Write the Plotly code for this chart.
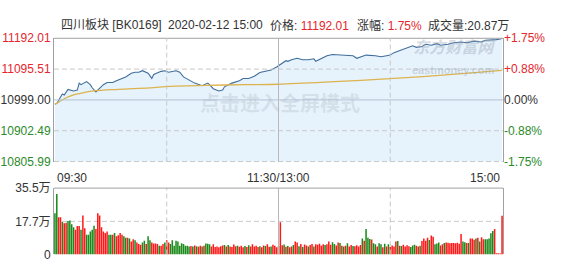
import plotly.graph_objects as go

# ---------------- data ----------------
prev_close = 10999.00
price_min = [0, 1, 4, 5, 7, 10, 12, 13, 14, 17, 19, 20, 22, 24, 26, 28, 31, 33, 35, 38, 41, 43, 45, 47, 50,
             52, 53, 57, 59, 61, 65, 67, 69, 72, 75, 79, 82, 83, 85, 88, 90, 91, 95, 99, 101, 104, 107, 110,
             113, 116, 119, 122, 124, 125, 127, 130, 131, 133, 136, 139, 140, 143, 146, 149, 153, 156, 160,
             162, 165, 167, 172, 175, 178, 180, 182, 185, 187, 189, 192, 194, 197, 199, 202, 205, 207, 211,
             214, 218, 221, 225, 229, 231, 235, 237, 239, 240]
price_val = [10985.5, 10988.0, 11017.4, 11014.5, 11032.0, 11027.0, 11030.0, 11051.6, 11046.7, 11056.3,
             11046.7, 11037.0, 11024.0, 11034.0, 11046.7, 11053.4, 11053.4, 11059.2, 11063.3, 11071.0,
             11082.6, 11085.6, 11085.6, 11090.5, 11082.6, 11066.3, 11078.8, 11088.5, 11090.5, 11085.6,
             11090.5, 11085.6, 11071.0, 11061.3, 11051.6, 11043.7, 11051.6, 11046.7, 11034.0, 11027.0,
             11030.0, 11040.0, 11051.6, 11059.2, 11066.3, 11066.3, 11073.0, 11084.7, 11088.5, 11092.6,
             11102.2, 11114.8, 11121.8, 11119.8, 11124.7, 11129.4, 11127.7, 11124.7, 11124.7, 11127.7,
             11119.8, 11129.4, 11137.3, 11141.1, 11139.4, 11139.4, 11137.3, 11129.4, 11134.4, 11139.4,
             11137.3, 11134.4, 11137.3, 11139.4, 11147.0, 11154.0, 11158.7, 11163.6, 11168.6, 11163.6,
             11166.5, 11173.3, 11170.3, 11175.3, 11170.3, 11173.3, 11178.2, 11180.3, 11178.2, 11183.2,
             11180.3, 11186.1, 11186.1, 11187.9, 11189.9, 11192.01]

avg_min = [0, 1, 5, 10, 16, 21, 34, 51, 62, 81, 102, 120, 150, 182, 210, 240]
avg_val = [10985.5, 10988.5, 11002.8, 11014.5, 11022.4, 11027.0, 11032.0, 11037.0, 11041.7, 11044.6,
           11046.7, 11048.0, 11056.0, 11066.3, 11077.5, 11091.5]

volume = [22.1, 32.3, 19.9, 19.9, 17.4, 16.7, 17.0, 17.9, 18.2, 16.2,
          14.5, 13.2, 15.2, 15.2, 13.2, 20.8, 14.0, 10.6, 10.6, 12.3,
          13.2, 15.4, 13.6, 22.1, 20.8, 14.5, 12.3, 11.5, 12.3, 10.6,
          10.6, 10.6, 11.5, 9.8, 10.3, 11.5, 10.6, 9.8, 9.0, 9.0,
          8.6, 6.9, 8.1, 7.6, 6.4, 5.6, 5.2, 6.4, 7.3, 5.6,
          9.8, 7.6, 6.4, 5.9, 5.9, 5.6, 4.7, 4.7, 5.6, 6.4,
          7.6, 6.4, 5.6, 7.6, 4.7, 7.3, 6.9, 4.7, 6.0, 5.6,
          4.7, 4.7, 4.2, 4.5, 4.2, 4.8, 4.4, 4.1, 4.7, 4.3,
          4.6, 5.9, 5.7, 5.5, 4.2, 5.5, 4.0, 4.3, 3.9, 4.4,
          4.8, 5.0, 4.3, 5.1, 4.2, 4.0, 5.3, 4.4, 4.7, 4.1,
          4.6, 3.8, 4.5, 4.0, 4.9, 4.3, 5.4, 4.2, 4.6, 4.0,
          4.4, 3.9, 4.8, 4.5, 5.5, 4.1, 4.2, 5.2, 4.6, 3.9,
          4.5,
          17.3, 4.9, 5.3, 4.1, 4.5, 3.8, 4.2, 5.0, 6.9,
          6.4, 4.4, 5.6, 4.0, 5.3, 4.8, 4.2, 5.0, 5.6, 4.3,
          5.5, 5.2, 5.8, 4.6, 5.5, 5.0, 5.5, 6.9, 5.2, 6.5,
          5.6, 4.8, 6.4, 6.2, 4.6, 4.2, 4.7, 6.0, 4.3, 5.1,
          4.5, 4.4, 4.9, 4.3, 5.0, 8.6, 7.4, 13.6, 9.0, 8.3,
          8.0, 6.0, 5.5, 4.2, 6.0, 5.5, 3.9, 5.8, 4.2, 5.4,
          4.0, 4.8, 4.3, 6.9, 7.2, 4.6, 4.5, 5.2, 4.3, 4.9,
          4.4, 4.0, 4.8, 5.2, 4.6, 4.2, 4.6, 7.2, 8.6, 7.4,
          8.9, 7.7, 10.2, 9.5, 5.5, 5.9, 6.4, 4.8, 5.5, 6.2,
          6.4, 6.3, 6.0, 6.2, 6.1, 6.0, 6.3, 5.8, 10.9, 6.9,
          6.5, 6.2, 6.2, 8.6, 8.6, 7.9, 8.6, 9.0, 7.0, 9.2,
          8.1, 8.1, 8.1, 8.6, 11.4, 12.6, 13.6, 0.6, 0.6, 0.5,
          20.7]
vol_dir = list("GGRRGRRGGG" "GRRRGRRGGG" "GGRRRRRRRG" "GRGRRRRGGR" "GRRGRRRGGR"
               "GGRRRRGRRG" "RRGGGGGGGG" "GGGRGRGRRG" "RGGGRRRRRR" "RGRGRRRRGR"
               "RRGRGRRRRR" "GRRGRRGRRR" "G"
               "RRGRGRRGR" "RGRGRRGRRG" "RRRRRGRRRG" "GRRGRGRGRR" "GRRRRGRGGG"
               "RGGRGGRGRG" "RRRRGRGRRR" "RGGGRRGRRR" "RGRRGGGRRG" "RRRRRRRRRG"
               "GRGRRRGRGR" "RGGGGGRRRR" "R")

price_ticks = [10805.99, 10902.49, 10999.00, 11095.51, 11192.01]
price_labels = ["10805.99", "10902.49", "10999.00", "11095.51", "11192.01"]
pct_ticks = [-1.75, -0.88, 0.0, 0.88, 1.75]
pct_labels = ["-1.75%", "-0.88%", "0.00%", "+0.88%", "+1.75%"]
vol_ticks = [0, 17.7, 35.5]
vol_labels = ["0", "17.7万", "35.5万"]
time_ticks = [0, 120, 240]
time_labels = ["09:30", "11:30/13:00", "15:00"]

# ---------------- style ----------------
RED = "#e5262d"
GREEN = "#2b8a2b"
GRAY = "#333333"
FONT = "Liberation Sans, Arial, Noto Sans CJK SC"
W, H = 567, 270
X0, X1 = 54, 503
M_TOP, M_BOT = 33, 163
V_TOP, V_BOT = 191, 261


def colored(lbl, v, mid):
    c = RED if v > mid else (GREEN if v < mid else GRAY)
    return f"<span style='color:{c}'>{lbl}</span>"


fig = go.Figure()
fig.add_trace(go.Scatter(x=price_min, y=price_val, mode="lines",
                         line=dict(color="#3f6d9c", width=1.1),
                         fill="tozeroy", fillcolor="#e7f3fc",
                         xaxis="x", yaxis="y", hoverinfo="skip"))
fig.add_trace(go.Scatter(x=avg_min, y=avg_val, mode="lines",
                         line=dict(color="#dcb34e", width=1.3, shape="spline"),
                         xaxis="x", yaxis="y", hoverinfo="skip"))
fig.add_trace(go.Scatter(x=[None], y=[None], xaxis="x", yaxis="y2", showlegend=False))
fig.add_trace(go.Bar(x=list(range(len(volume))), y=volume,
                     marker=dict(color=["#ff1a1a" if d == "R" else "#1b8a1b" for d in vol_dir],
                                 line=dict(width=0)),
                     xaxis="x2", yaxis="y3", hoverinfo="skip"))

xdom = [X0 / W, X1 / W]
main_dom = [1 - M_BOT / H, 1 - M_TOP / H]
vol_dom = [1 - V_BOT / H, 1 - V_TOP / H]
xr = [-0.5, 240.5]

axis_common = dict(showgrid=False, zeroline=False, ticks="", fixedrange=True)

fig.update_layout(
    width=W, height=H, autosize=False,
    margin=dict(l=0, r=0, t=0, b=0),
    paper_bgcolor="white", plot_bgcolor="white",
    showlegend=False, bargap=0.18,
    font=dict(family=FONT, size=12, color=GRAY),
    xaxis=dict(domain=xdom, range=xr, anchor="y", showticklabels=False, showline=False, **axis_common),
    yaxis=dict(domain=main_dom, range=[price_ticks[0], price_ticks[-1]], anchor="x",
               tickvals=price_ticks,
               ticktext=[colored(l, v, prev_close) for l, v in zip(price_labels, price_ticks)],
               showline=True, linecolor="#a0a0a0", linewidth=1, mirror=True,
               tickfont=dict(size=12), **axis_common),
    yaxis2=dict(range=[pct_ticks[0], pct_ticks[-1]], overlaying="y", side="right", anchor="x",
                tickvals=pct_ticks,
                ticktext=[colored(l, v, 0) for l, v in zip(pct_labels, pct_ticks)],
                showline=False, tickfont=dict(size=12), **axis_common),
    xaxis2=dict(domain=xdom, range=xr, anchor="y3", showticklabels=False, showline=False, **axis_common),
    yaxis3=dict(domain=vol_dom, range=[vol_ticks[0], vol_ticks[-1]], anchor="x2",
                tickvals=vol_ticks, ticktext=vol_labels,
                showline=True, linecolor="#a0a0a0", linewidth=1, mirror=True,
                tickfont=dict(size=12, color=GRAY), **axis_common),
)

shapes = []
DASH = "5px,3px"
# main chart horizontal lines
shapes.append(dict(type="line", xref="x domain", yref="y domain", x0=0, x1=1, y0=1, y1=1,
                   line=dict(color="#a0a0a0", width=1)))
shapes.append(dict(type="line", xref="x domain", yref="y domain", x0=0, x1=1, y0=0, y1=0,
                   line=dict(color="#c8c8c8", width=1, dash=DASH)))
for v in price_ticks[1:-1]:
    if v == prev_close:
        shapes.append(dict(type="line", xref="x domain", yref="y", x0=0, x1=1, y0=v, y1=v,
                           line=dict(color="#b4c3d3", width=1)))
    else:
        shapes.append(dict(type="line", xref="x domain", yref="y", x0=0, x1=1, y0=v, y1=v,
                           line=dict(color="#c8c8c8", width=1, dash=DASH)))
# vertical lines in both panels
for xa, ya in (("x", "y domain"), ("x2", "y3 domain")):
    for m in (60, 180):
        shapes.append(dict(type="line", xref=xa, yref=ya, x0=m, x1=m, y0=0, y1=1,
                           line=dict(color="#c8c8c8", width=1, dash=DASH)))
    shapes.append(dict(type="line", xref=xa, yref=ya, x0=120, x1=120, y0=0, y1=1,
                       line=dict(color="#b8b8b8", width=1)))
# volume panel
shapes.append(dict(type="line", xref="x2 domain", yref="y3 domain", x0=0, x1=1, y0=1, y1=1,
                   line=dict(color="#a0a0a0", width=1)))
shapes.append(dict(type="line", xref="x2 domain", yref="y3", x0=0, x1=1, y0=17.7, y1=17.7,
                   line=dict(color="#c8c8c8", width=1, dash=DASH), layer="below"))
fig.update_layout(shapes=shapes)

ann = []
# time labels
tl_y = 1 - 180 / H
ann.append(dict(x=time_ticks[0], xref="x", y=tl_y, yref="paper", text=time_labels[0],
                showarrow=False, xanchor="left", yanchor="middle", font=dict(size=12, color=GRAY)))
ann.append(dict(x=time_ticks[1], xref="x", y=tl_y, yref="paper", text=time_labels[1],
                showarrow=False, xanchor="center", yanchor="middle", font=dict(size=12, color=GRAY)))
ann.append(dict(x=time_ticks[2], xref="x", y=tl_y, yref="paper", text=time_labels[2],
                showarrow=False, xanchor="right", yanchor="middle", font=dict(size=12, color=GRAY)))

# header
hy = 1 - 19 / H
header = [
    (58.5, "四川板块 [BK0169]"),
    (165.5, "2020-02-12 15:00"),
    (268, f"价格: <span style='color:{RED}'>11192.01</span>"),
    (355, f"涨幅: <span style='color:{RED}'>1.75%</span>"),
    (425.5, "成交量:20.87万"),
]
for hx, txt in header:
    ann.append(dict(x=hx / W, xref="paper", y=hy, yref="paper", text=txt, showarrow=False,
                    xanchor="left", yanchor="middle", font=dict(size=12, color=GRAY)))

# watermarks
ann.append(dict(x=280 / W, xref="paper", y=1 - 102 / H, yref="paper", text="<b>点击进入全屏模式</b>",
                showarrow=False, xanchor="center", yanchor="middle",
                font=dict(size=20, color="rgba(175,185,198,0.35)")))
ann.append(dict(x=453 / W, xref="paper", y=1 - 53 / H, yref="paper",
                text="<b><i>东方财富网</i></b><br><span style='font-size:11px'><b>eastmoney.com</b></span>",
                showarrow=False, align="center", xanchor="center", yanchor="middle",
                font=dict(size=16, color="rgba(150,162,178,0.4)")))
fig.update_layout(annotations=ann)

fig.write_html("out.html", config={"displayModeBar": False, "staticPlot": True})
